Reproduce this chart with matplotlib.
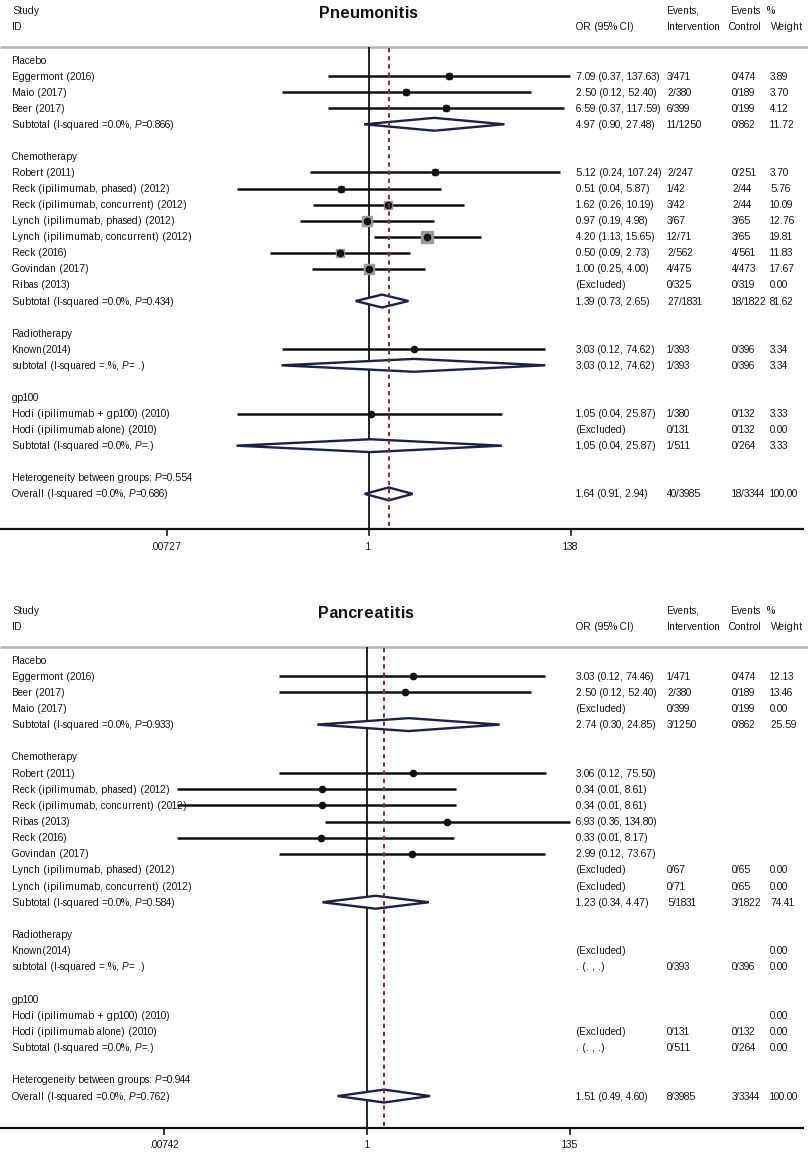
import matplotlib
matplotlib.use('Agg')
import matplotlib.pyplot as plt
import matplotlib.transforms as mtransforms
from matplotlib.patches import Polygon
import numpy as np

plt.rcParams['font.family'] = ['Liberation Sans', 'DejaVu Sans']
plt.rcParams['text.hinting'] = 'auto'
plt.rcParams['text.hinting_factor'] = 1

W, H = 808, 1152

# ---------------- Pneumonitis ----------------
pn_kind = ['g', 's', 's', 's', 't', '',
           'g', 's', 's', 's', 's', 's', 's', 's', 's', 't', '',
           'g', 's', 't', '',
           'g', 's', 's', 't', '',
           'h', 'o']
pn_labels = ['Placebo', 'Eggermont (2016)', 'Maio (2017)', 'Beer (2017)',
             'Subtotal (I-squared =0.0%, P=0.866)', '',
             'Chemotherapy', 'Robert (2011)', 'Reck (ipilimumab, phased) (2012)',
             'Reck (ipilimumab, concurrent) (2012)', 'Lynch (ipilimumab, phased) (2012)',
             'Lynch (ipilimumab, concurrent) (2012)', 'Reck (2016)', 'Govindan (2017)',
             'Ribas (2013)', 'Subtotal (I-squared =0.0%, P=0.434)', '',
             'Radiotherapy', 'Known(2014)', 'subtotal (I-squared =.%, P= .)', '',
             'gp100', 'Hodi (ipilimumab + gp100) (2010)', 'Hodi (ipilimumab alone) (2010)',
             'Subtotal (I-squared =0.0%, P=.)', '',
             'Heterogeneity between groups: P=0.554',
             'Overall (I-squared =0.0%, P=0.686)']
pn_est = [None, 7.09, 2.50, 6.59, 4.97, None,
          None, 5.12, 0.51, 1.62, 0.97, 4.20, 0.50, 1.00, None, 1.39, None,
          None, 3.03, 3.03, None,
          None, 1.05, None, 1.05, None,
          None, 1.64]
pn_lo = [None, 0.37, 0.12, 0.37, 0.90, None,
         None, 0.24, 0.04, 0.26, 0.19, 1.13, 0.09, 0.25, None, 0.73, None,
         None, 0.12, 0.12, None,
         None, 0.04, None, 0.04, None,
         None, 0.91]
pn_hi = [None, 137.63, 52.40, 117.59, 27.48, None,
         None, 107.24, 5.87, 10.19, 4.98, 15.65, 2.73, 4.00, None, 2.65, None,
         None, 74.62, 74.62, None,
         None, 25.87, None, 25.87, None,
         None, 2.94]
pn_note = [''] * 28
pn_note[14] = '(Excluded)'
pn_note[23] = '(Excluded)'
pn_ev_int = ['', '3/471', '2/380', '6/399', '11/1250', '',
             '', '2/247', '1/42', '3/42', '3/67', '12/71', '2/562', '4/475', '0/325', '27/1831', '',
             '', '1/393', '1/393', '',
             '', '1/380', '0/131', '1/511', '',
             '', '40/3985']
pn_ev_ctl = ['', '0/474', '0/189', '0/199', '0/862', '',
             '', '0/251', '2/44', '2/44', '3/65', '3/65', '4/561', '4/473', '0/319', '18/1822', '',
             '', '0/396', '0/396', '',
             '', '0/132', '0/132', '0/264', '',
             '', '18/3344']
pn_weight = ['', '3.89', '3.70', '4.12', '11.72', '',
             '', '3.70', '5.76', '10.09', '12.76', '19.81', '11.83', '17.67', '0.00', '81.62', '',
             '', '3.34', '3.34', '',
             '', '3.33', '0.00', '3.33', '',
             '', '100.00']
pn_ticks = [0.00727, 1, 138]
pn_ticklabels = ['.00727', '1', '138']

# ---------------- Pancreatitis ----------------
pa_kind = ['g', 's', 's', 's', 't', '',
           'g', 's', 's', 's', 's', 's', 's', 's', 's', 't', '',
           'g', 's', 't', '',
           'g', 's', 's', 't', '',
           'h', 'o']
pa_labels = ['Placebo', 'Eggermont (2016)', 'Beer (2017)', 'Maio (2017)',
             'Subtotal (I-squared =0.0%, P=0.933)', '',
             'Chemotherapy', 'Robert (2011)', 'Reck (ipilimumab, phased) (2012)',
             'Reck (ipilimumab, concurrent) (2012)', 'Ribas (2013)', 'Reck (2016)',
             'Govindan (2017)', 'Lynch (ipilimumab, phased) (2012)',
             'Lynch (ipilimumab, concurrent) (2012)',
             'Subtotal (I-squared =0.0%, P=0.584)', '',
             'Radiotherapy', 'Known(2014)', 'subtotal (I-squared =.%, P= .)', '',
             'gp100', 'Hodi (ipilimumab + gp100) (2010)', 'Hodi (ipilimumab alone) (2010)',
             'Subtotal (I-squared =0.0%, P=.)', '',
             'Heterogeneity between groups: P=0.944',
             'Overall (I-squared =0.0%, P=0.762)']
pa_est = [None, 3.03, 2.50, None, 2.74, None,
          None, 3.06, 0.34, 0.34, 6.93, 0.33, 2.99, None, None, 1.23, None,
          None, None, None, None,
          None, None, None, None, None,
          None, 1.51]
pa_lo = [None, 0.12, 0.12, None, 0.30, None,
         None, 0.12, 0.01, 0.01, 0.36, 0.01, 0.12, None, None, 0.34, None,
         None, None, None, None,
         None, None, None, None, None,
         None, 0.49]
pa_hi = [None, 74.46, 52.40, None, 24.85, None,
         None, 75.50, 8.61, 8.61, 134.80, 8.17, 73.67, None, None, 4.47, None,
         None, None, None, None,
         None, None, None, None, None,
         None, 4.60]
pa_note = [''] * 28
pa_note[3] = '(Excluded)'
pa_note[13] = '(Excluded)'
pa_note[14] = '(Excluded)'
pa_note[18] = '(Excluded)'
pa_note[19] = '. (. , .)'
pa_note[23] = '(Excluded)'
pa_note[24] = '. (. , .)'
pa_ev_int = ['', '1/471', '2/380', '0/399', '3/1250', '',
             '', '', '', '', '', '', '', '0/67', '0/71', '5/1831', '',
             '', '', '0/393', '',
             '', '', '0/131', '0/511', '',
             '', '8/3985']
pa_ev_ctl = ['', '0/474', '0/189', '0/199', '0/862', '',
             '', '', '', '', '', '', '', '0/65', '0/65', '3/1822', '',
             '', '', '0/396', '',
             '', '', '0/132', '0/264', '',
             '', '3/3344']
pa_weight = ['', '12.13', '13.46', '0.00', '25.59', '',
             '', '', '', '', '', '', '', '0.00', '0.00', '74.41', '',
             '', '0.00', '0.00', '',
             '', '0.00', '0.00', '0.00', '',
             '', '100.00']
pa_ticks = [0.00742, 1, 135]
pa_ticklabels = ['.00742', '1', '135']

FS = 7.1
TXT = '#161616'
NAVY = '#1c2145'


def draw_panel(fig, renderer, title, top_px, bot_px, row0_px, row_h, one_px, px_ln,
               study_px, grey_px, axis_px, title_x,
               kind, labels, est, lo, hi, note, ev_i, ev_c, wt,
               ticks, ticklabels, boxes):
    ax = fig.add_axes([0, 1 - bot_px / H, 1, (bot_px - top_px) / H])
    ax.set_xscale('log')
    ax.set_xlim(np.exp(-one_px / px_ln), np.exp((W - one_px) / px_ln))
    ax.set_ylim((bot_px - row0_px) / row_h, (top_px - row0_px) / row_h)
    ax.axis('off')
    tr = mtransforms.blended_transform_factory(ax.transAxes, ax.transData)
    base = 3.5 / row_h  # baseline sits a little below the row centre

    def row(px):
        return (px - row0_px) / row_h

    def fx(px):
        return px / W

    def put(x, y, s, **kw):
        return ax.text(fx(x), y + base, s, transform=tr, va='baseline', fontsize=FS,
                       color=TXT, **kw)

    def put_p(x, y, s):
        # label with an italic P, drawn in three pieces
        j = s.rfind('P')
        t1 = put(x, y, s[:j])
        x1 = t1.get_window_extent(renderer).x1
        t2 = put(x1 * W / fig.bbox.width, y, 'P', style='italic')
        x2 = t2.get_window_extent(renderer).x1
        put(x2 * W / fig.bbox.width, y, s[j + 1:])

    # headers
    ys, yi = row(study_px), row(study_px + 17)
    ax.text(fx(title_x), row(study_px + 8), title, transform=tr, ha='center',
            va='baseline', fontsize=11.5, fontweight='bold', color='#111111')
    put(12, ys, 'Study')
    put(12, yi, 'ID')
    put(576, yi, 'OR (95% CI)')
    put(667, ys, 'Events,')
    put(667, yi, 'Intervention')
    put(731, ys, 'Events')
    put(729, yi, 'Control')
    put(767, ys, '%')
    put(771, yi, 'Weight')

    # grey header rule and x axis
    ax.plot([0, 1], [row(grey_px)] * 2, transform=tr, color='#b4b4b4', lw=1.8,
            solid_capstyle='butt')
    ax.plot([0, 0.995], [row(axis_px)] * 2, transform=tr, color='#111111', lw=1.6,
            solid_capstyle='butt')
    for t, tl in zip(ticks, ticklabels):
        ax.plot([t, t], [row(axis_px), row(axis_px + 6)], color='#111111', lw=1.2)
        ax.text(t, row(axis_px + 20.5), tl, ha='center', va='baseline',
                fontsize=FS, color=TXT)

    # reference lines
    ax.plot([1, 1], [row(grey_px + 1), row(axis_px)], color='#111111', lw=1.3, zorder=2)
    overall = est[kind.index('o')]
    ax.plot([overall, overall], [row(grey_px + 1), row(axis_px - 2)], color='#8b2a2a',
            lw=1.4, dashes=(2.2, 2.0), zorder=6)

    for i, k in enumerate(kind):
        if labels[i]:
            if k in ('t', 'h', 'o'):
                put_p(12, i, labels[i])
            else:
                put(12, i, labels[i])
        if est[i] is not None:
            if k == 's':
                ax.plot([lo[i], hi[i]], [i, i], color='#111111', lw=1.8, zorder=3,
                        solid_capstyle='butt')
                if boxes and wt[i]:
                    side = 2.6 * np.sqrt(float(wt[i])) * 0.72
                    ax.plot(est[i], i, 's', ms=side, color='#9c9c9c', mec='#9c9c9c',
                            zorder=4)
                ax.plot(est[i], i, 'o', ms=4.5, color='#111111', zorder=5)
            else:
                d = Polygon([(lo[i], i), (est[i], i - 0.4), (hi[i], i), (est[i], i + 0.4)],
                            closed=True, facecolor='white', edgecolor=NAVY, lw=1.7,
                            zorder=4)
                ax.add_patch(d)
            ci = f'{est[i]:.2f} ({lo[i]:.2f}, {hi[i]:.2f})'
        else:
            ci = note[i]
        put(576, i, ci)
        put(667, i, ev_i[i])
        put(732, i, ev_c[i])
        put(770, i, wt[i])
    return ax


fig = plt.figure(figsize=(W / 100, H / 100), dpi=100)
fig.patch.set_facecolor('white')
renderer = fig.canvas.get_renderer()

draw_panel(fig, renderer, 'Pneumonitis', 0, 576, 60, 16.07, 368.5, 41.0,
           10, 47, 529, 368,
           pn_kind, pn_labels, pn_est, pn_lo, pn_hi, pn_note,
           pn_ev_int, pn_ev_ctl, pn_weight, pn_ticks, pn_ticklabels, True)
draw_panel(fig, renderer, 'Pancreatitis', 576, 1152, 660, 16.15, 367, 41.3,
           610, 647, 1128, 366,
           pa_kind, pa_labels, pa_est, pa_lo, pa_hi, pa_note,
           pa_ev_int, pa_ev_ctl, pa_weight, pa_ticks, pa_ticklabels, False)

fig.savefig('out.png', dpi=100, facecolor='white')
